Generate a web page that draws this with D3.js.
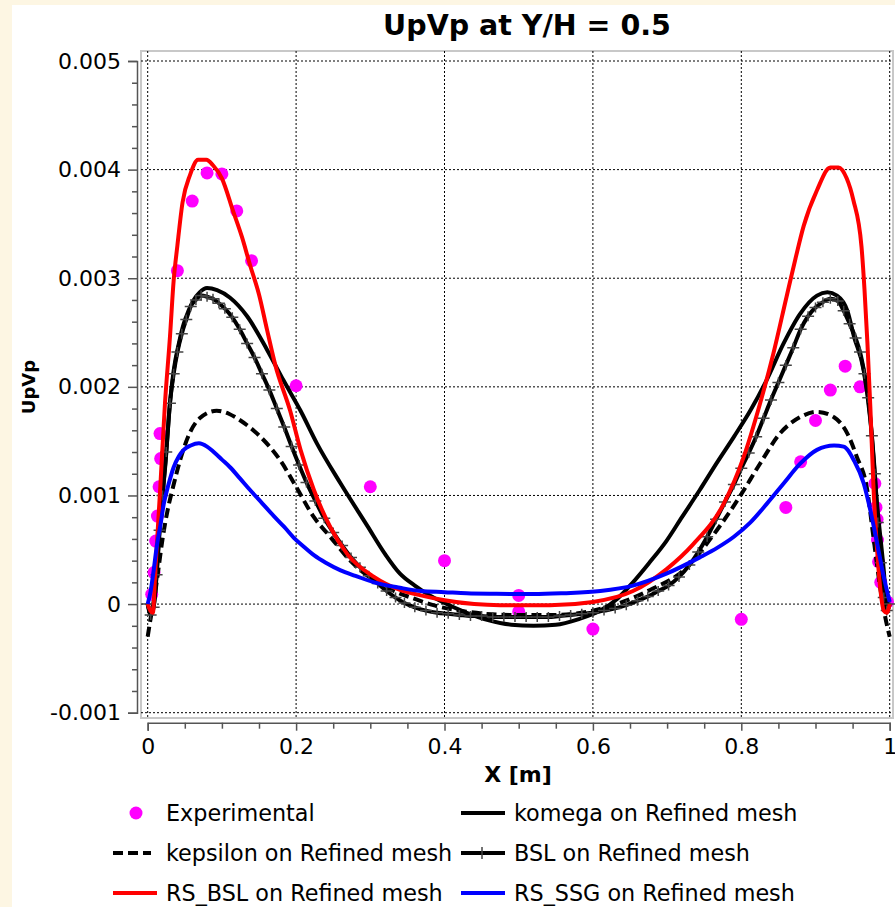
<!DOCTYPE html>
<meta charset='utf-8'>
<style type='text/css'>
body { margin: 0; background: #fdf6e3; }
text { font-family: 'DejaVu Sans', sans-serif; }
.grid line { stroke: #000; stroke-width: 1; stroke-dasharray: 2,2; }
.axis path, .axis line { stroke: #555; stroke-width: 1.5; }
.axis text { font-size: 22px; fill: #000; }
.legend text { font-size: 22.3px; }
</style>
<div id='chart'></div>
<script src='https://d3js.org/d3.v7.min.js'></script>
<script>

// tick labels
var xTicks = [0, 0.2, 0.4, 0.6, 0.8, 1];
var xTickLabels = ['0', '0.2', '0.4', '0.6', '0.8', '1'];
var yTicks = [-0.001, 0, 0.001, 0.002, 0.003, 0.004, 0.005];
var yTickLabels = ['-0.001', '0', '0.001', '0.002', '0.003', '0.004', '0.005'];

// series, [X, UpVp]
var experimental = [
  [0.0054, 0.00009], [0.0085, 0.00029], [0.0108, 0.00058], [0.0131, 0.00081], [0.0153, 0.00108],
  [0.0175, 0.00134], [0.0166, 0.00157], [0.04, 0.00307], [0.06, 0.00371], [0.08, 0.00397],
  [0.10, 0.00396], [0.12, 0.00362], [0.14, 0.00316], [0.20, 0.00201], [0.30, 0.00108],
  [0.40, 0.00040], [0.50, 0.00008], [0.50, -0.00007], [0.60, -0.00023], [0.80, -0.00014],
  [0.86, 0.00089], [0.88, 0.00131], [0.90, 0.00169], [0.92, 0.00197], [0.94, 0.00219],
  [0.96, 0.00200], [0.980, 0.00111], [0.9815, 0.00089], [0.983, 0.00078], [0.9835, 0.00059],
  [0.985, 0.00039], [0.988, 0.00020], [0.997, 0.00002]
];

var komega = [
  [0, 0], [0.004, -0.00008], [0.008, -0.00002], [0.012, 0.00028], [0.017, 0.00078], [0.024, 0.00130],
  [0.030, 0.00185], [0.035, 0.00215], [0.042, 0.00240], [0.0485, 0.00258], [0.055, 0.00270],
  [0.062, 0.00280], [0.070, 0.00287], [0.080, 0.00291], [0.0935, 0.00289], [0.111, 0.00282],
  [0.134, 0.00265], [0.161, 0.00234], [0.183, 0.00206], [0.206, 0.00178], [0.228, 0.00148],
  [0.260, 0.00111], [0.296, 0.00072], [0.320, 0.00046], [0.340, 0.00028], [0.360, 0.00017],
  [0.380, 0.00008], [0.400, 0.00001], [0.430, -0.00008], [0.460, -0.00015], [0.490, -0.00019],
  [0.520, -0.00020], [0.550, -0.00019], [0.580, -0.00014], [0.610, -0.00006], [0.633, 0.00005],
  [0.654, 0.00020], [0.676, 0.00038], [0.699, 0.00058], [0.720, 0.00080], [0.744, 0.00105],
  [0.767, 0.00130], [0.790, 0.00154], [0.812, 0.00178], [0.834, 0.00206], [0.857, 0.00240],
  [0.879, 0.00267], [0.902, 0.00284], [0.916, 0.00287], [0.929, 0.00284], [0.943, 0.00270],
  [0.952, 0.00246], [0.965, 0.00215], [0.974, 0.00169], [0.983, 0.00092], [0.992, 0.00031],
  [0.996, 0], [1, 0]
];

var kepsilon = [
  [0, -0.00030], [0.003, -0.00017], [0.006, -0.00005], [0.010, 0.00010], [0.015, 0.00035],
  [0.020, 0.00060], [0.027, 0.00087], [0.035, 0.00110], [0.0435, 0.00132], [0.057, 0.00158],
  [0.070, 0.00171], [0.093, 0.00178], [0.110, 0.00175], [0.125, 0.00169], [0.152, 0.00154],
  [0.179, 0.00132], [0.200, 0.00108], [0.224, 0.00080], [0.246, 0.00062], [0.273, 0.00040],
  [0.305, 0.00022], [0.332, 0.00012], [0.359, 0.00005], [0.385, -0.00001], [0.430, -0.00007],
  [0.490, -0.00010], [0.545, -0.00010], [0.600, -0.00006], [0.632, 0], [0.677, 0.00013],
  [0.722, 0.00031], [0.767, 0.00068], [0.798, 0.00099], [0.825, 0.00129], [0.852, 0.00157],
  [0.879, 0.00172], [0.902, 0.00177], [0.925, 0.00172], [0.943, 0.00157], [0.956, 0.00135],
  [0.969, 0.00108], [0.978, 0.00062], [0.987, 0.00016], [0.994, -0.00012], [1, -0.00030]
];

var bsl = [
  [0, 0], [0.004, -0.00010], [0.008, -0.00003], [0.012, 0.00027], [0.016, 0.00068], [0.020, 0.00100],
  [0.025, 0.00140], [0.030, 0.00185], [0.035, 0.00212], [0.040, 0.00232], [0.046, 0.00249],
  [0.052, 0.00262], [0.058, 0.00274], [0.065, 0.00280], [0.072, 0.00284], [0.080, 0.00283],
  [0.088, 0.00281], [0.096, 0.00277], [0.104, 0.00272], [0.114, 0.00264], [0.124, 0.00253],
  [0.134, 0.00240], [0.144, 0.00227], [0.154, 0.00212], [0.164, 0.00197], [0.174, 0.00180],
  [0.184, 0.00163], [0.194, 0.00145], [0.204, 0.00128], [0.214, 0.00112], [0.226, 0.00095],
  [0.238, 0.00079], [0.250, 0.00066], [0.262, 0.00054], [0.274, 0.00043], [0.286, 0.00034],
  [0.298, 0.00026], [0.310, 0.00019], [0.322, 0.00012], [0.334, 0.00006], [0.346, 0.00001],
  [0.360, -0.00003], [0.375, -0.00006], [0.390, -0.00008], [0.405, -0.00009], [0.420, -0.00010],
  [0.435, -0.00011], [0.450, -0.00011], [0.465, -0.00012], [0.480, -0.00012], [0.495, -0.00012],
  [0.510, -0.00012], [0.525, -0.00012], [0.540, -0.00012], [0.555, -0.00011], [0.570, -0.00010],
  [0.585, -0.00009], [0.600, -0.00008], [0.615, -0.00006], [0.630, -0.00004], [0.645, -0.00001],
  [0.660, 0.00003], [0.674, 0.00007], [0.688, 0.00012], [0.702, 0.00017], [0.716, 0.00025],
  [0.730, 0.00036], [0.742, 0.00048], [0.754, 0.00062], [0.766, 0.00078], [0.778, 0.00094],
  [0.790, 0.00110], [0.800, 0.00125], [0.810, 0.00139], [0.820, 0.00154], [0.830, 0.00171],
  [0.840, 0.00188], [0.850, 0.00204], [0.860, 0.00220], [0.870, 0.00236], [0.880, 0.00253],
  [0.890, 0.00265], [0.900, 0.00273], [0.910, 0.00278], [0.920, 0.00281], [0.930, 0.00279],
  [0.938, 0.00270], [0.946, 0.00258], [0.954, 0.00245], [0.960, 0.00232], [0.966, 0.00212],
  [0.971, 0.00190], [0.976, 0.00155], [0.980, 0.00120], [0.984, 0.00075], [0.988, 0.00038],
  [0.992, 0.00006], [0.996, -0.00006], [1, 0]
];

var rsBsl = [
  [0, 0], [0.0036, -0.00006], [0.007, -0.00008], [0.0103, 0.00031], [0.017, 0.00108], [0.0233, 0.00185],
  [0.030, 0.00246], [0.035, 0.00298], [0.040, 0.00330], [0.047, 0.00370], [0.057, 0.00395],
  [0.068, 0.00409], [0.079, 0.00409], [0.088, 0.00404], [0.100, 0.00392], [0.115, 0.00362],
  [0.127, 0.00338], [0.138, 0.00312], [0.150, 0.00285], [0.161, 0.00252], [0.172, 0.00220],
  [0.192, 0.00178], [0.206, 0.00142], [0.224, 0.00105], [0.246, 0.00071], [0.269, 0.00046],
  [0.305, 0.00025], [0.340, 0.00013], [0.368, 0.00008], [0.400, 0.000035], [0.440, 0],
  [0.475, -0.00001], [0.542, -0.00001], [0.600, 0.00002], [0.654, 0.00012], [0.699, 0.00032],
  [0.735, 0.00055], [0.776, 0.00092], [0.803, 0.00135], [0.825, 0.00184], [0.843, 0.00230],
  [0.861, 0.00283], [0.873, 0.00318], [0.884, 0.00348], [0.902, 0.00381], [0.920, 0.00402],
  [0.931, 0.00402], [0.942, 0.00392], [0.951, 0.00372], [0.962, 0.00329], [0.966, 0.00290],
  [0.970, 0.00240], [0.974, 0.00180], [0.978, 0.00110], [0.983, 0.00050], [0.988, 0.00010],
  [0.992, -0.00006], [0.996, -0.00008], [1, 0]
];

var rsSsg = [
  [0, 0], [0.004, 0.00012], [0.008, 0.00031], [0.0126, 0.00055], [0.017, 0.00072], [0.0216, 0.00092],
  [0.028, 0.00110], [0.035, 0.00126], [0.042, 0.00136], [0.0485, 0.00142], [0.058, 0.00146],
  [0.069, 0.00148], [0.080, 0.00145], [0.089, 0.00140], [0.100, 0.00133], [0.111, 0.00126],
  [0.124, 0.00116], [0.138, 0.00105], [0.154, 0.00093], [0.170, 0.00081], [0.184, 0.00071],
  [0.197, 0.00061], [0.210, 0.00053], [0.224, 0.00045], [0.240, 0.00038], [0.260, 0.00031],
  [0.280, 0.00026], [0.305, 0.00020], [0.340, 0.00015], [0.368, 0.00012], [0.400, 0.00011],
  [0.430, 0.00010], [0.470, 0.000095], [0.520, 0.000092], [0.560, 0.00010], [0.610, 0.00012],
  [0.654, 0.00017], [0.699, 0.00028], [0.744, 0.00043], [0.768, 0.00052], [0.790, 0.00062],
  [0.812, 0.00075], [0.834, 0.00092], [0.857, 0.00111], [0.879, 0.00129], [0.902, 0.00142],
  [0.925, 0.00146], [0.938, 0.00145], [0.952, 0.00132], [0.965, 0.00111], [0.974, 0.00086],
  [0.983, 0.00056], [0.992, 0.00025], [1, 0.00002]
];

var W = 895, H = 907;

var svg = d3.select('#chart')
  .append('svg')
    .attr('width', W)
    .attr('height', H);

svg.append('rect')
  .attr('width', W).attr('height', H)
  .attr('fill', '#fdf6e3');
svg.append('rect')
  .attr('x', 12).attr('y', 5)
  .attr('width', W - 12).attr('height', H - 5)
  .attr('fill', '#fff');

var x = d3.scaleLinear().domain([0, 1]).range([147.7, 889.7]);
var y = d3.scaleLinear().domain([-0.001, 0.005]).range([712.7, 61]);

var frame = {left: 141, top: 51, right: 893, bottom: 718};

// plot frame
svg.append('rect')
  .attr('x', frame.left).attr('y', frame.top)
  .attr('width', frame.right - frame.left).attr('height', frame.bottom - frame.top)
  .attr('fill', 'none')
  .attr('stroke', '#c8c8c8')
  .attr('stroke-width', 2);

// grid
var grid = svg.append('g').attr('class', 'grid');
grid.selectAll('.vx')
  .data(xTicks)
  .enter()
  .append('line')
    .attr('x1', function(d) { return x(d); })
    .attr('x2', function(d) { return x(d); })
    .attr('y1', frame.top)
    .attr('y2', frame.bottom);
grid.selectAll('.hy')
  .data(yTicks)
  .enter()
  .append('line')
    .attr('y1', function(d) { return y(d); })
    .attr('y2', function(d) { return y(d); })
    .attr('x1', frame.left)
    .attr('x2', frame.right);

// axes
var xAxis = svg.append('g')
  .attr('class', 'axis')
  .attr('transform', 'translate(0,722.7)')
  .call(d3.axisBottom(x)
    .tickValues(d3.range(0, 1.0001, 0.05))
    .tickFormat(function(d) {
      var i = xTicks.findIndex(function(t) { return Math.abs(t - d) < 1e-6; });
      return i < 0 ? '' : xTickLabels[i];
    })
    .tickSizeOuter(0)
    .tickSize(8)
    .tickPadding(8));
xAxis.selectAll('.tick line')
  .attr('y2', function(d) {
    return xTicks.some(function(t) { return Math.abs(t - d) < 1e-6; }) ? 8 : 6;
  });

var yAxis = svg.append('g')
  .attr('class', 'axis')
  .attr('transform', 'translate(137,0)')
  .call(d3.axisLeft(y)
    .tickValues(d3.range(-0.001, 0.00501, 0.0002))
    .tickFormat(function(d) {
      var i = yTicks.findIndex(function(t) { return Math.abs(t - d) < 1e-9; });
      return i < 0 ? '' : yTickLabels[i];
    })
    .tickSizeOuter(0)
    .tickSize(9)
    .tickPadding(7));
yAxis.selectAll('.tick line')
  .attr('x2', function(d) {
    return yTicks.some(function(t) { return Math.abs(t - d) < 1e-9; }) ? -9 : -5;
  });

// titles
svg.append('text')
  .attr('x', 527)
  .attr('y', 35)
  .attr('text-anchor', 'middle')
  .style('font-size', '28.5px')
  .style('font-weight', 'bold')
  .text('UpVp at Y/H = 0.5');

svg.append('text')
  .attr('x', 518)
  .attr('y', 782)
  .attr('text-anchor', 'middle')
  .style('font-size', '22px')
  .style('font-weight', 'bold')
  .text('X [m]');

svg.append('text')
  .attr('transform', 'translate(35,387) rotate(-90)')
  .attr('text-anchor', 'middle')
  .style('font-size', '18px')
  .style('font-weight', 'bold')
  .text('UpVp');

// data
var line = d3.line()
  .x(function(d) { return x(d[0]); })
  .y(function(d) { return y(d[1]); })
  .curve(d3.curveMonotoneX);

svg.append('g')
  .selectAll('dot')
  .data(experimental)
  .enter()
  .append('circle')
    .attr('cx', function(d) { return x(d[0]); })
    .attr('cy', function(d) { return y(d[1]); })
    .attr('r', 6.5)
    .style('fill', '#ff00ff');

var series = [
  {data: komega, color: '#000', dash: null},
  {data: kepsilon, color: '#000', dash: '10,5'},
  {data: bsl, color: '#000', dash: null},
  {data: rsBsl, color: '#ff0000', dash: null},
  {data: rsSsg, color: '#0000ff', dash: null}
];

series.forEach(function(s) {
  svg.append('path')
    .datum(s.data)
    .attr('d', line)
    .attr('fill', 'none')
    .attr('stroke', s.color)
    .attr('stroke-width', 4)
    .attr('stroke-linejoin', 'round')
    .attr('stroke-dasharray', s.dash);
  if (s.data === bsl) {
    svg.append('g')
      .selectAll('path')
      .data(bsl)
      .enter()
      .append('path')
        .attr('d', 'M-6,0H6M0,-5V5')
        .attr('transform', function(d) { return 'translate(' + x(d[0]) + ',' + y(d[1]) + ')'; })
        .attr('stroke', '#444')
        .attr('stroke-width', 1.5);
  }
});

// legend
var legendItems = [
  {name: 'Experimental', type: 'dot', color: '#ff00ff', col: 0, row: 0},
  {name: 'komega on Refined mesh', type: 'line', color: '#000', col: 1, row: 0},
  {name: 'kepsilon on Refined mesh', type: 'dash', color: '#000', col: 0, row: 1},
  {name: 'BSL on Refined mesh', type: 'plus', color: '#000', col: 1, row: 1},
  {name: 'RS_BSL on Refined mesh', type: 'line', color: '#ff0000', col: 0, row: 2},
  {name: 'RS_SSG on Refined mesh', type: 'line', color: '#0000ff', col: 1, row: 2}
];
var colX = [113, 461];

var legend = svg.selectAll('.legend')
  .data(legendItems)
  .enter()
  .append('g')
  .attr('class', 'legend')
  .attr('transform', function(d) { return 'translate(' + colX[d.col] + ',' + (813 + d.row * 40) + ')'; });

legend.filter(function(d) { return d.type === 'dot'; })
  .append('circle')
    .attr('cx', 23)
    .attr('r', 6.5)
    .style('fill', function(d) { return d.color; });

legend.filter(function(d) { return d.type !== 'dot'; })
  .append('line')
    .attr('x1', 0)
    .attr('x2', function(d) { return d.type === 'dash' ? 38 : 44; })
    .attr('stroke', function(d) { return d.color; })
    .attr('stroke-width', 4)
    .attr('stroke-dasharray', function(d) { return d.type === 'dash' ? '10,5' : null; });

legend.filter(function(d) { return d.type === 'plus'; })
  .append('path')
    .attr('d', 'M21,-6V6')
    .attr('stroke', '#444')
    .attr('stroke-width', 1.5);

legend.append('text')
  .attr('x', 53)
  .attr('dy', '0.35em')
  .text(function(d) { return d.name; });

</script>
